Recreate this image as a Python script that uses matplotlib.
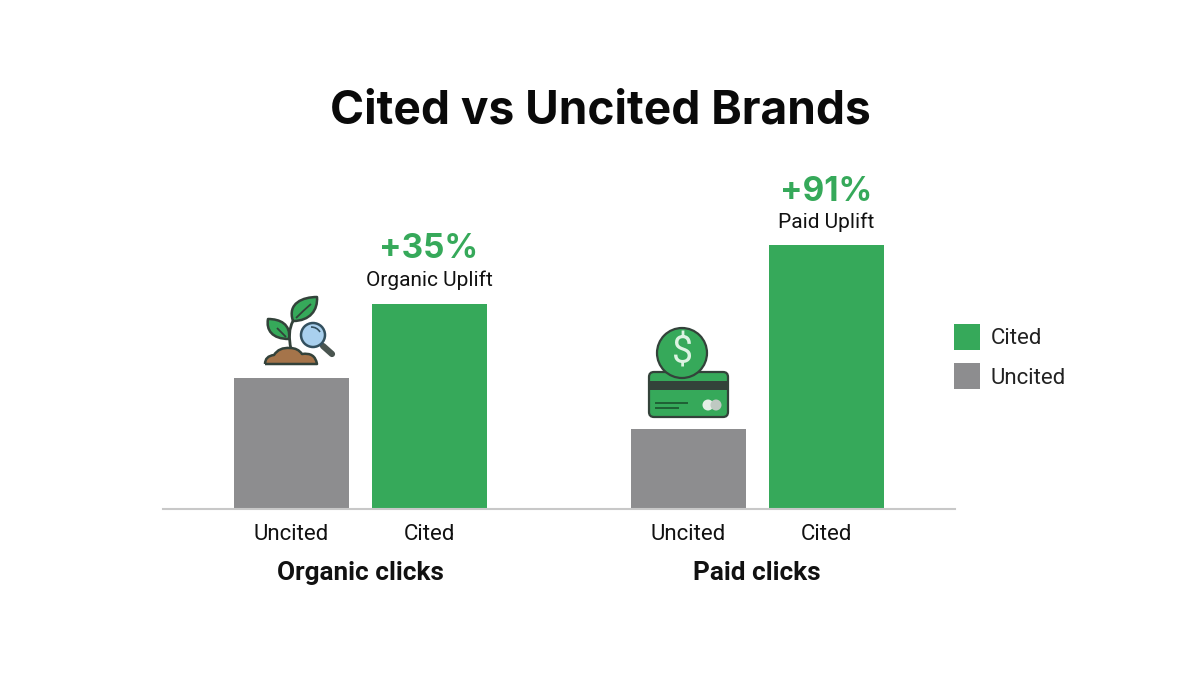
import matplotlib
matplotlib.use("Agg")
import matplotlib.pyplot as plt
from matplotlib.patches import PathPatch, Circle, FancyBboxPatch, Rectangle
from matplotlib.path import Path

# Data (bar heights; arbitrary units)
groups = ["Organic clicks", "Paid clicks"]
bar_labels = ["Uncited", "Cited", "Uncited", "Cited"]
bar_values = [131, 205, 80, 264]
uplift_pct = ["+35%", "+91%"]
uplift_lbl = ["Organic Uplift", "Paid Uplift"]
legend_lbl = ["Cited", "Uncited"]

GREEN = "#36A95A"
GRAY = "#8D8D8F"
DARK = "#33423A"
TXT = "#111111"

W, H = 1200, 675
fig = plt.figure(figsize=(12, 6.75), dpi=100, facecolor="white")

# bar axes
x0, x1, ybase, ytop = 163, 955, 509, 170
ax = fig.add_axes([x0 / W, 1 - ybase / H, (x1 - x0) / W, (ybase - ytop) / H])
ax.set_xlim(x0, x1)
ax.set_ylim(0, ybase - ytop)
ax.patch.set_alpha(0)
centres = [291, 429, 688.5, 826.5]
colors = [GRAY, GREEN, GRAY, GREEN]
ax.bar(centres, bar_values, width=115, color=colors, linewidth=0, zorder=2)
for s in ("top", "left", "right"):
    ax.spines[s].set_visible(False)
ax.spines["bottom"].set_color("#C8C8C8")
ax.spines["bottom"].set_linewidth(1.5)
ax.set_yticks([])
ax.set_xticks(centres)
ax.set_xticklabels(bar_labels, fontfamily="Roboto", fontsize=16, color=TXT)
ax.tick_params(axis="x", length=0, pad=11)

# overlay in pixel coordinates
ov = fig.add_axes([0, 0, 1, 1], zorder=5)
ov.set_xlim(0, W)
ov.set_ylim(H, 0)
ov.axis("off")
ov.patch.set_alpha(0)

ov.text(600, 111, "Cited vs Uncited Brands", ha="center", va="center",
        fontfamily="Inter", fontweight="bold", fontsize=33.2, color="#0A0A0A")

for cx, g in zip([360, 757], groups):
    ov.text(cx, 573, g, ha="center", va="center", fontfamily="Roboto",
            fontweight="bold", fontsize=18.8, color=TXT)

for (cx, yp, yl), p, l in zip([(429, 249, 280), (826, 192, 222)], uplift_pct, uplift_lbl):
    ov.text(cx, yp, p, ha="center", va="center", fontfamily="Inter",
            fontweight="bold", fontsize=24, color=GREEN)
    ov.text(cx, yl, l, ha="center", va="center", fontfamily="Roboto",
            fontsize=15, color=TXT)

# legend
for y, c, l in zip([337, 376], [GREEN, GRAY], legend_lbl):
    ov.add_patch(Rectangle((954, y - 13), 26, 26, color=c, lw=0))
    ov.text(991, y + 2, l, ha="left", va="center", fontfamily="Roboto", fontsize=16, color="#222222")


def shape(verts, codes, fc, ec=DARK, lw=1.8, z=6):
    ov.add_patch(PathPatch(Path(verts, codes), fc=fc, ec=ec, lw=lw, zorder=z, joinstyle="round"))


M, C3, L = Path.MOVETO, Path.CURVE3, Path.LINETO
C4 = Path.CURVE4
# plant icon: stems
shape([(291, 349), (287, 332), (293, 321)], [M, C3, C3], "none", lw=2)
# leaves
shape([(293, 321), (287, 303), (303, 297), (317, 297), (318, 310), (310, 321), (293, 321)],
      [M, C4, C4, C4, C4, C4, C4], GREEN)
shape([(296, 318), (304, 310), (311, 304)], [M, C3, C3], "none", lw=1.3, z=7)
shape([(289, 339), (272, 339), (266, 330), (268, 319), (280, 319), (291, 324), (289, 339)],
      [M, C4, C4, C4, C4, C4, C4], GREEN)
shape([(277, 328), (282, 333), (286, 337)], [M, C3, C3], "none", lw=1.3, z=7)
# soil
shape([(265, 364), (265, 356), (274, 355), (279, 347), (290, 348), (298, 348), (302, 354),
       (315, 352), (317, 364), (265, 364)],
      [M, C3, C3, C3, C3, C3, C3, C3, C3, L], "#A5744A")
# magnifier
ov.plot([323, 332], [346, 354], color="#4A5550", lw=4.5, solid_capstyle="round", zorder=6)
ov.add_patch(Circle((313, 335), 12, fc="#A9D0EE", ec="#33505F", lw=1.8, zorder=7))
shape([(311, 327), (317, 327), (320, 332)], [M, C3, C3], "none", ec="#33505F", lw=1.2, z=8)

# card icon
ov.add_patch(FancyBboxPatch((649, 372), 79, 45, boxstyle="round,pad=0,rounding_size=5",
                            fc=GREEN, ec=DARK, lw=1.6, zorder=6))
ov.add_patch(Rectangle((649, 381), 79, 9, fc="#33423A", lw=0, zorder=7))
ov.plot([656, 687], [403, 403], color="#1F5F34", lw=1.4, zorder=7)
ov.plot([656, 678], [408, 408], color="#1F5F34", lw=1.4, zorder=7)
ov.add_patch(Circle((708, 405), 5.5, fc="#E4EFE6", lw=0, zorder=7))
ov.add_patch(Circle((716, 405), 5.5, fc="#BFC9C2", lw=0, zorder=8))
ov.add_patch(Circle((682, 353), 25, fc=GREEN, ec=DARK, lw=1.6, zorder=8))
ov.text(682, 353, "$", ha="center", va="center", fontfamily="Roboto",
        fontsize=27, color="#DDF3E2", zorder=9)

fig.savefig("out.png", dpi=100, facecolor="white")
